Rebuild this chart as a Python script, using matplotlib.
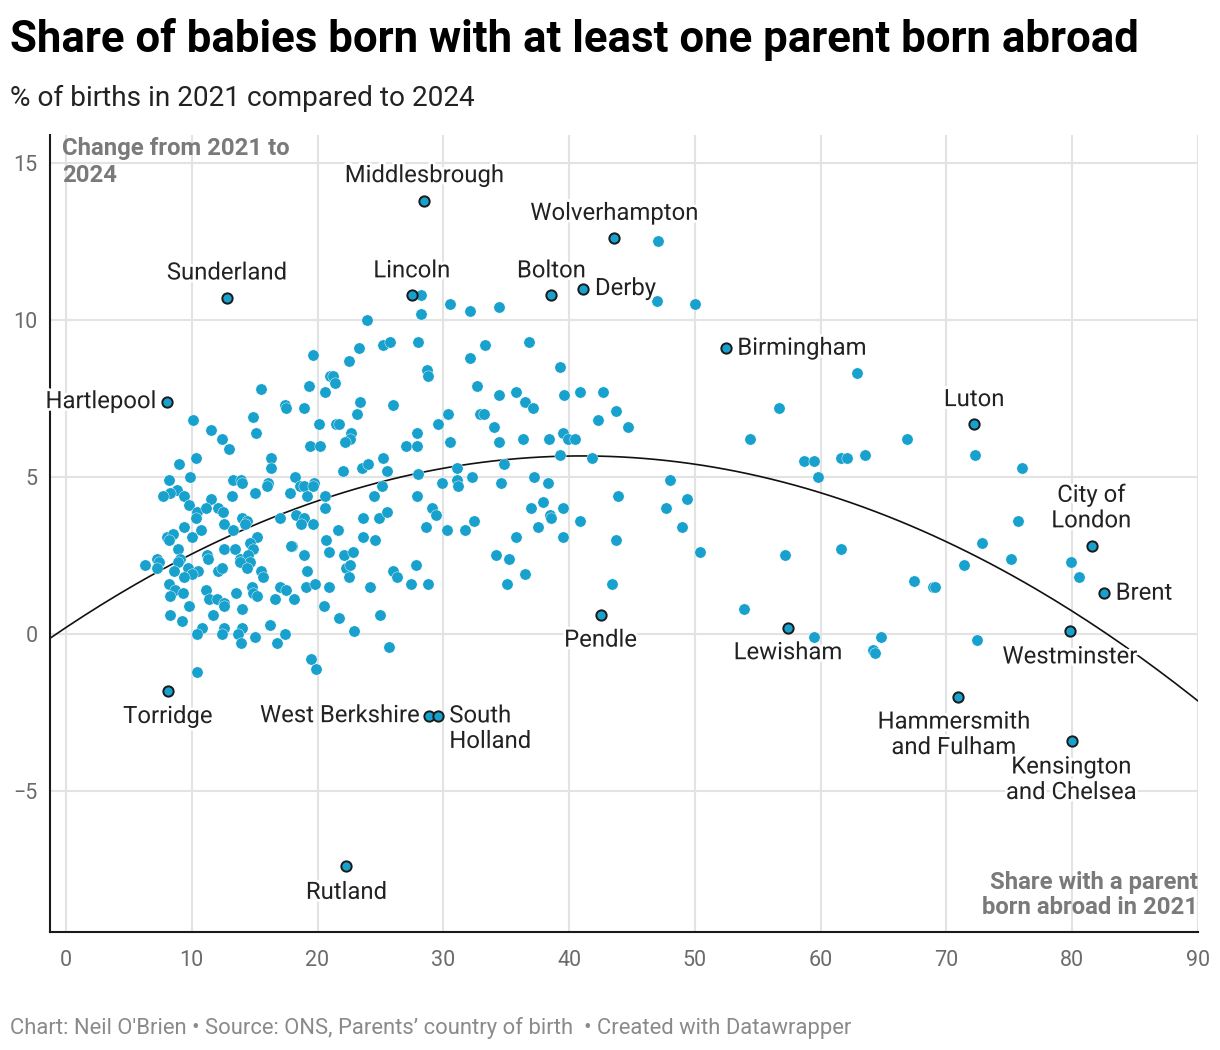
import numpy as np
import matplotlib.pyplot as plt
import matplotlib.patheffects as pe

plt.rcParams['font.family'] = ['Roboto', 'DejaVu Sans']

# DADOS: share of births with a parent born abroad in 2021 (x) and change to 2024 (y)
share_2021 = [
    19.6, 21.0, 19.3, 20.6, 15.5, 17.4, 17.5, 18.9, 10.1, 11.5, 12.4, 13.0, 14.9, 15.1, 20.1, 19.4,
    20.2, 10.3, 9.0, 16.3, 16.3, 9.9, 8.2, 13.3, 13.9, 14.0, 18.2, 19.7, 18.6, 18.9, 19.6, 16.1,
    16.0, 8.8, 8.3, 7.7, 9.4, 13.2, 15.0, 17.8, 19.2, 20.6, 11.5, 9.8, 12.1, 12.5, 10.4, 11.1,
    20.6, 18.3, 18.9, 14.0, 10.3, 17.0, 12.6, 9.4, 10.7, 13.3, 18.7, 19.6, 14.4, 14.2, 8.0, 8.5,
    8.2, 10.0, 15.2, 14.6, 14.9, 12.6, 13.4, 18.0, 17.9, 20.7, 20.9, 8.9, 18.9, 11.2, 11.3, 13.8,
    14.5, 14.6, 13.8, 9.1, 8.9, 7.2, 7.4, 7.2, 6.3, 8.6, 14.4, 9.7, 10.5, 10.0, 9.4, 12.1,
    12.4, 15.5, 15.7, 19.2, 8.2, 19.1, 19.8, 20.9, 8.7, 9.3, 11.1, 14.8, 14.9, 15.2, 17.0, 17.5,
    8.3, 13.5, 11.4, 12.0, 12.6, 12.6, 16.6, 18.1, 9.8, 20.5, 14.0, 8.3, 11.7, 9.2, 16.2, 10.8,
    10.4, 12.6, 12.4, 14.0, 13.7, 15.0, 17.4, 13.9, 16.8, 19.5, 19.9, 10.4,
    28.2, 30.5, 32.1, 28.2, 23.9, 28.0, 25.2, 25.8, 23.3, 22.5, 32.1, 28.7, 28.8, 21.2, 21.4, 32.7,
    23.4, 26.0, 23.1, 30.4, 32.9, 21.5, 21.7, 29.6, 22.7, 22.6, 22.2, 27.9, 30.5, 27.0, 27.9, 25.2,
    22.0, 23.5, 24.0, 31.1, 25.5, 28.0, 24.5, 25.1, 27.9, 29.9, 31.1, 31.2, 32.3, 23.6, 24.9, 25.5,
    29.1, 29.4, 28.6, 30.3, 31.7, 32.4, 21.6, 23.6, 24.6, 22.1, 22.8, 22.3, 22.6, 22.5, 26.0, 26.3,
    27.8, 24.2, 27.4, 28.8, 21.7, 25.0, 22.9, 25.7,
    34.4, 36.8, 33.3, 39.3, 34.4, 35.8, 36.5, 37.1, 39.6, 40.9, 42.7, 33.2, 34.0, 42.3, 43.7, 44.7,
    34.4, 36.3, 38.4, 39.5, 39.9, 40.5, 39.3, 41.8, 34.8, 37.2, 34.6, 38.3, 48.0, 43.9, 49.4, 47.7,
    37.0, 37.9, 39.5, 38.5, 38.6, 40.9, 37.5, 49.0, 35.8, 39.5, 43.7, 50.4, 34.2, 35.2, 36.5, 35.1,
    43.4, 47.1, 47.0, 50.0,
    62.9, 56.7, 54.4, 66.9, 58.7, 59.5, 61.6, 62.1, 63.5, 72.3, 76.0, 59.8, 75.7, 72.8, 75.1, 71.4,
    57.2, 61.6, 67.4, 68.9, 69.1, 53.9, 59.5, 64.8, 64.2, 64.3, 72.4, 79.9, 80.5,
]
change_2024 = [
    8.9, 8.2, 7.9, 7.7, 7.8, 7.3, 7.2, 7.2, 6.8, 6.5, 6.2, 5.9, 6.9, 6.4, 6.7, 6.0,
    6.0, 5.6, 5.4, 5.6, 5.3, 5.0, 4.9, 4.9, 4.9, 4.8, 5.0, 4.8, 4.7, 4.7, 4.7, 4.8,
    4.7, 4.6, 4.5, 4.4, 4.4, 4.4, 4.5, 4.5, 4.4, 4.4, 4.3, 4.1, 4.0, 3.9, 3.9, 4.0,
    4.0, 3.8, 3.7, 3.7, 3.7, 3.7, 3.5, 3.4, 3.3, 3.3, 3.5, 3.5, 3.6, 3.5, 3.1, 3.2,
    3.0, 3.1, 3.1, 2.9, 2.7, 2.7, 2.7, 2.8, 2.8, 3.0, 2.6, 2.7, 2.5, 2.5, 2.4, 2.4,
    2.5, 2.3, 2.3, 2.4, 2.3, 2.4, 2.3, 2.1, 2.2, 2.0, 2.1, 2.1, 2.0, 1.9, 1.8, 2.0,
    2.1, 2.0, 1.8, 2.0, 1.6, 1.5, 1.6, 1.5, 1.4, 1.3, 1.4, 1.5, 1.3, 1.2, 1.5, 1.4,
    1.2, 1.3, 1.1, 1.1, 1.0, 0.9, 1.1, 1.1, 0.9, 0.9, 0.8, 0.6, 0.6, 0.4, 0.3, 0.2,
    0.0, 0.2, 0.0, 0.2, 0.0, -0.1, 0.0, -0.3, -0.3, -0.8, -1.1, -1.2,
    10.8, 10.5, 10.3, 10.2, 10.0, 9.3, 9.2, 9.3, 9.1, 8.7, 8.8, 8.4, 8.2, 8.2, 8.0, 7.9,
    7.4, 7.3, 7.0, 7.0, 7.0, 6.7, 6.7, 6.7, 6.4, 6.2, 6.1, 6.4, 6.1, 6.0, 6.0, 5.6,
    5.2, 5.3, 5.4, 5.3, 5.2, 5.1, 4.4, 4.7, 4.4, 4.8, 4.9, 4.7, 5.0, 3.7, 3.7, 3.9,
    4.0, 3.8, 3.4, 3.3, 3.3, 3.6, 3.3, 3.1, 3.0, 2.5, 2.6, 2.1, 2.2, 1.8, 2.0, 1.8,
    2.2, 1.5, 1.6, 1.6, 0.5, 0.6, 0.1, -0.4,
    10.4, 9.3, 9.2, 8.5, 7.6, 7.7, 7.4, 7.2, 7.6, 7.7, 7.7, 7.0, 6.6, 6.8, 7.1, 6.6,
    6.1, 6.2, 6.2, 6.4, 6.2, 6.2, 5.7, 5.6, 5.4, 5.0, 4.8, 4.8, 4.9, 4.4, 4.3, 4.0,
    4.0, 4.2, 4.0, 3.8, 3.7, 3.6, 3.4, 3.4, 3.1, 3.1, 3.0, 2.6, 2.5, 2.4, 1.9, 1.6,
    1.6, 12.5, 10.6, 10.5,
    8.3, 7.2, 6.2, 6.2, 5.5, 5.5, 5.6, 5.6, 5.7, 5.7, 5.3, 5.0, 3.6, 2.9, 2.4, 2.2,
    2.5, 2.7, 1.7, 1.5, 1.5, 0.8, -0.1, -0.1, -0.5, -0.6, -0.2, 2.3, 1.8,
]

# areas com rótulo
label_names = ["Middlesbrough", "Wolverhampton", "Sunderland", "Lincoln", "Bolton", "Derby",
               "Birmingham", "Hartlepool", "Luton", "City of\nLondon", "Brent", "Pendle",
               "Lewisham", "Westminster", "Torridge", "West Berkshire", "South\nHolland",
               "Hammersmith\nand Fulham", "Kensington\nand Chelsea", "Rutland"]
label_x = [28.5, 43.6, 12.8, 27.5, 38.6, 41.1, 52.5, 8.0, 72.2, 81.6, 82.5, 42.5,
           57.4, 79.8, 8.1, 28.9, 29.6, 70.9, 80.0, 22.3]
label_y = [13.8, 12.6, 10.7, 10.8, 10.8, 11.0, 9.1, 7.4, 6.7, 2.8, 1.3, 0.6,
           0.2, 0.1, -1.8, -2.6, -2.6, -2.0, -3.4, -7.4]

# linha de tendência (quadrática: pico e curvatura)
trend_peak_x = 41.0
trend_peak_y = 5.67
trend_curv = -0.00325

x_ticks = [0, 10, 20, 30, 40, 50, 60, 70, 80, 90]
y_ticks = [-5, 0, 5, 10, 15]

# posição dos rótulos (offset em pixels, alinhamento)
label_pos = {
    "Middlesbrough": (0, 25, "center"), "Wolverhampton": (0, 25, "center"),
    "Sunderland": (0, 25, "center"), "Lincoln": (0, 24, "center"), "Bolton": (0, 24, "center"),
    "Derby": (12, 0, "left"), "Birmingham": (11, 0, "left"), "Hartlepool": (-10, 0, "right"),
    "Luton": (0, 24, "center"), "City of\nLondon": (-1, 38, "center"), "Brent": (12, 0, "left"),
    "Pendle": (0, -25, "center"), "Lewisham": (0, -25, "center"),
    "Westminster": (0, -26, "center"), "Torridge": (0, -26, "center"),
    "West Berkshire": (-10, 0, "right"), "South\nHolland": (11, -13, "left"),
    "Hammersmith\nand Fulham": (-4, -38, "center"), "Kensington\nand Chelsea": (-1, -39, "center"),
    "Rutland": (0, -26, "center"),
}

W, H = 1220, 1050
fig = plt.figure(figsize=(W / 100, H / 100), dpi=100)
ax = fig.add_axes([50 / W, 1 - 932 / H, (1198 - 50) / W, (932 - 135) / H])

ax.set_xlim(-1.27, 90.0)
ax.set_ylim(-9.49, 15.89)
ax.set_xticks(x_ticks)
ax.set_yticks(y_ticks)
ax.set_yticklabels([str(v).replace("-", "\u2212") for v in y_ticks])
ax.grid(True, color="#e3e3e3", linewidth=1.5)
ax.set_axisbelow(True)
for s in ["top", "right"]:
    ax.spines[s].set_visible(False)
for s in ["left", "bottom"]:
    ax.spines[s].set_color("#1a1a1a")
    ax.spines[s].set_linewidth(1.5)
ax.tick_params(length=0, labelsize=15.5, labelcolor="#6b6b6b")
ax.tick_params(axis="x", pad=13)
ax.tick_params(axis="y", pad=9)

# pontos
ax.scatter(share_2021, change_2024, s=66, color="#18a1cd", edgecolor="white",
           linewidth=0.3, zorder=3)

# tendência
xs = np.linspace(-1.27, 90.0, 200)
ax.plot(xs, trend_peak_y + trend_curv * (xs - trend_peak_x) ** 2, color="#111111",
        linewidth=1.2, zorder=2)

ax.scatter(label_x, label_y, s=55, color="#18a1cd", edgecolor="#1a1a1a",
           linewidth=1.4, zorder=5)

halo = [pe.withStroke(linewidth=4, foreground="white")]
for nome, lx, ly in zip(label_names, label_x, label_y):
    dx, dy, ha = label_pos[nome]
    ax.annotate(nome, (lx, ly), xytext=(dx * 0.72, dy * 0.72), textcoords="offset points",
                ha=ha, va="center", fontsize=17.2, color="#222222", linespacing=1.14,
                path_effects=halo, zorder=6, multialignment=ha)

# títulos dos eixos
fig.text(62 / W, 1 - 162 / H, "Change from 2021 to\n2024", ha="left", va="center",
         fontsize=17.2, fontweight="bold", color="#7a7a7a", linespacing=1.17)
fig.text(1198 / W, 1 - 895 / H, "Share with a parent\nborn abroad in 2021", ha="right",
         va="center", fontsize=17.2, fontweight="bold", color="#7a7a7a", linespacing=1.14,
         multialignment="right")

# título, subtítulo, rodapé
fig.text(10 / W, 1 - 52 / H, "Share of babies born with at least one parent born abroad",
         ha="left", va="baseline", fontsize=31.5, fontweight="bold", color="#000000")
fig.text(10 / W, 1 - 106 / H, "% of births in 2021 compared to 2024", ha="left",
         va="baseline", fontsize=20.2, color="#222222")
fig.text(10 / W, 1 - 1034 / H,
         "Chart: Neil O'Brien \u2022 Source: ONS, Parents\u2019 country of birth  \u2022 Created with Datawrapper",
         ha="left", va="baseline", fontsize=15.8, color="#8a8a8a")

fig.savefig("out.png", dpi=100)
